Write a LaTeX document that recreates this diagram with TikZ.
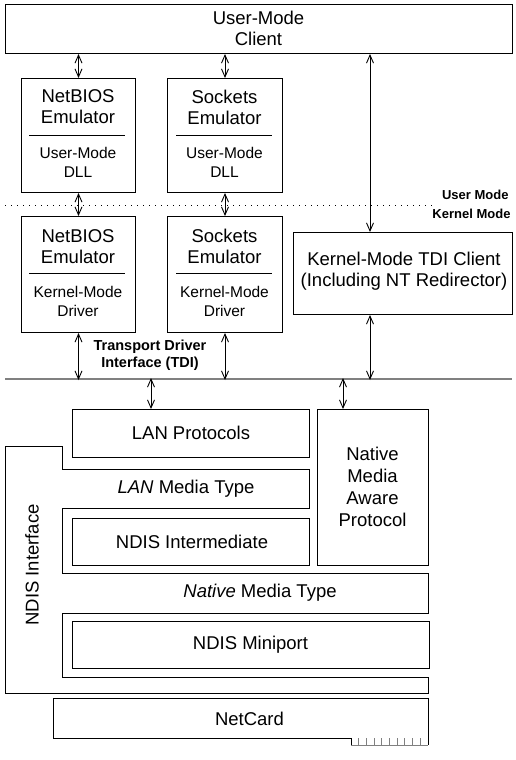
\documentclass[tikz,border=0pt]{standalone}
\usepackage{fontspec}
\setmainfont{Liberation Sans}
\usetikzlibrary{arrows.meta}
\begin{document}
\begin{tikzpicture}[x=1pt,y=-1pt,line width=1pt,
  box/.style={draw,rectangle,inner sep=0pt,anchor=north west},
  dbl/.style={{Straight Barb[length=8pt,width=7pt]}-{Straight Barb[length=8pt,width=7pt]},line width=0.9pt},
  big/.style={font=\fontsize{18.5}{21}\selectfont,align=center,inner sep=0pt},
  small/.style={font=\fontsize{15.5}{19}\selectfont,align=center,inner sep=0pt},
  modelbl/.style={font=\fontsize{13}{15}\selectfont\bfseries,inner sep=0pt,anchor=base east},
  tdilbl/.style={font=\fontsize{14.5}{17}\selectfont\bfseries,align=center,inner sep=0pt},
  divline/.style={line width=1pt},
  grayline/.style={line width=2pt,draw=black!50},
]
\useasboundingbox (0,0) rectangle (516,760);
% top client
\node[box,minimum width=507pt,minimum height=49pt] (top) at (5,4) {};
\node[big] (topt) at (258.5,28.5) {User-Mode\\Client};
% user-mode emulators
\node[box,minimum width=114pt,minimum height=114pt] (nbu) at (21,78) {};
\node[box,minimum width=115pt,minimum height=114pt] (sou) at (167,78) {};
\node[big] (nbut) at (78,107) {NetBIOS\\Emulator};
\node[small] (nbus) at (78,162) {User-Mode\\DLL};
\node[big] (sout) at (224.5,107) {Sockets\\Emulator};
\node[small] (sous) at (224.5,162) {User-Mode\\DLL};
\draw[divline] (29,135) -- (125,135);
\draw[divline] (176,135) -- (272,135);
% kernel-mode emulators
\node[box,minimum width=114pt,minimum height=116pt] (nbk) at (21,216) {};
\node[box,minimum width=115pt,minimum height=116pt] (sok) at (167,216) {};
\node[big] (nbkt) at (78,246.5) {NetBIOS\\Emulator};
\node[small] (nbks) at (78,301) {Kernel-Mode\\Driver};
\node[big] (sokt) at (224.5,246.5) {Sockets\\Emulator};
\node[small] (soks) at (224.5,301) {Kernel-Mode\\Driver};
\draw[divline] (29,273) -- (125,273);
\draw[divline] (176,273) -- (272,273);
% TDI client
\node[box,minimum width=219pt,minimum height=82pt] (tdi) at (293,232) {};
\node[big] (tdit) at (404,271) {Kernel-Mode TDI Client\\(Including NT Redirector)};
% mode separator
\coordinate (dotL) at (5,205);
\coordinate (dotR) at (436,205);
\draw[line width=1pt,dash pattern=on 1pt off 5pt] (dotL) -- (dotR);
\node[modelbl] (um) at (509,199) {User Mode};
\node[modelbl] (km) at (511,218) {Kernel Mode};
% TDI line
\coordinate (tdiL) at (5,379);
\coordinate (tdiR) at (512,379);
\draw[grayline] (tdiL) -- (tdiR);
\node[tdilbl] (tdil) at (150,355) {Transport Driver\\Interface (TDI)};
% arrows upper
\coordinate (rx) at (370,0);
\draw[dbl] (top.south -| nbu.north) -- (nbu.north);
\draw[dbl] (top.south -| sou.north) -- (sou.north);
\draw[dbl] (top.south -| rx) -- (tdi.north -| rx);
\draw[dbl] (nbu.south) -- (nbk.north);
\draw[dbl] (sou.south) -- (sok.north);
\draw[dbl] (nbk.south) -- ([yshift=-1pt]nbk.south |- tdiL);
\draw[dbl] (sok.south) -- ([yshift=-1pt]sok.south |- tdiL);
\draw[dbl] (tdi.south -| rx) -- ([yshift=-1pt]rx |- tdiL);
% lower boxes
\node[box,minimum width=237pt,minimum height=48pt] (lan) at (72,409) {};
\node[big] (lant) at (191,433) {LAN Protocols};
\node[box,minimum width=111pt,minimum height=156pt] (nat) at (317,409) {};
\node[big,font=\fontsize{18.5}{22}\selectfont] (natt) at (372.5,486.5) {Native\\Media\\Aware\\Protocol};
\coordinate (lx) at (151,0);
\coordinate (nx) at (343,0);
\draw[dbl] ([yshift=1pt]lx |- tdiL) -- (lan.north -| lx);
\draw[dbl] ([yshift=1pt]nx |- tdiL) -- (nat.north -| nx);
% NDIS interface outline
\draw (5,446) -- (62,446) -- (62,469) -- (309,469) -- (309,508) -- (62,508)
  -- (62,573) -- (428,573) -- (428,613) -- (62,613) -- (62,677) -- (428,677)
  -- (428,693) -- (5,693) -- cycle;
\node[big,rotate=90] (ndist) at (32,565) {NDIS Interface};
\node[big] (lmt) at (186,488.5) {\textit{LAN} Media Type};
\node[box,minimum width=237pt,minimum height=47pt] (inter) at (72,518) {};
\node[big] (intert) at (192,541.5) {NDIS Intermediate};
\node[big] (nmt) at (260,593) {\textit{Native} Media Type};
\node[box,minimum width=357pt,minimum height=47pt] (mini) at (72,621) {};
\node[big] (minit) at (250.5,644.5) {NDIS Miniport};
% NetCard
\draw (351,745) -- (351,738) -- (53,738) -- (53,698) -- (428,698) -- (428,745);
\draw[draw=black!50] (351,745) -- (428,745);
\foreach \k in {1,...,9} {\draw[draw=black!50] (351+7.7*\k,738) -- (351+7.7*\k,745);}
\node[big] (nct) at (249.5,719) {NetCard};
\end{tikzpicture}
\end{document}
